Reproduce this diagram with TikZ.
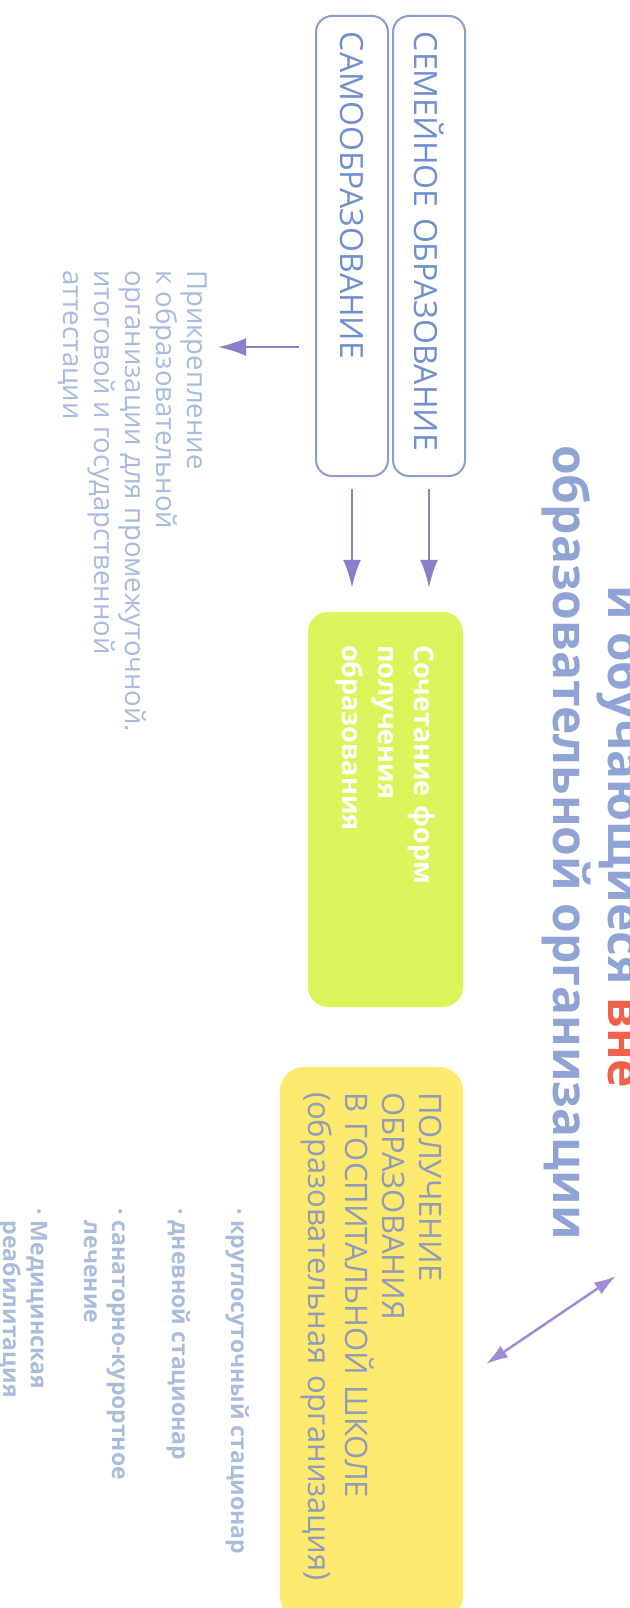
\documentclass[tikz,border=0pt]{standalone}
\usepackage{fontspec}
\setmainfont{Open Sans}
\usetikzlibrary{arrows.meta}

\definecolor{boxline}{HTML}{8B9BD3}
\definecolor{boxtext}{HTML}{6F8FCF}
\definecolor{arrowc}{HTML}{8A7FC9}
\definecolor{linkc}{HTML}{A28AD6}
\definecolor{titlec}{HTML}{8FA4D4}
\definecolor{vnec}{HTML}{F0604A}
\definecolor{limec}{HTML}{DCF45C}
\definecolor{sunc}{HTML}{FDE96E}
\definecolor{hosptext}{HTML}{8F9BB8}
\definecolor{notec}{HTML}{A7BBE0}
\definecolor{listc}{HTML}{AABCDC}

\tikzset{
  formbox/.style={draw=boxline, line width=2pt, rounded corners=16pt, text=boxtext,
    font=\fontsize{32}{36}\selectfont, text width=428pt, align=left,
    inner xsep=16pt, inner ysep=0pt, minimum height=72pt},
  combbox/.style={fill=limec, rounded corners=20pt, text=white,
    font=\bfseries\fontsize{27}{36}\selectfont, text width=329pt, align=left,
    inner xsep=33pt, inner ysep=0pt, minimum height=155pt},
  hospbox/.style={fill=sunc, rounded corners=24pt, text=hosptext,
    font=\fontsize{31}{37}\selectfont, text width=503pt, align=left,
    inner xsep=25pt, inner ysep=0pt, minimum height=183pt},
  note/.style={text=notec, font=\fontsize{27.5}{31}\selectfont, align=left, inner sep=0pt},
  listitem/.style={text=listc, font=\bfseries\fontsize{23}{28}\selectfont, align=left,
    inner sep=0pt, anchor=base west},
  heading/.style={text=titlec, font=\bfseries\fontsize{48}{55}\selectfont,
    inner sep=0pt, anchor=base west},
  flow/.style={draw=arrowc, line width=2.5pt, -{Latex[length=28pt,width=18pt]}},
  link/.style={draw=linkc, line width=2.5pt,
    {Latex[length=22pt,width=14pt]}-{Latex[length=22pt,width=14pt]}},
}

\begin{document}
\begin{tikzpicture}[x=1pt,y=1pt]
  \clip (0,0) rectangle (629,-1608);
  \fill[white] (0,0) rectangle (629,-1608);

  % whole sheet is turned, x runs down the page
  \begin{scope}[rotate=-90, transform shape]
    \node[heading] (title1) at (585,608) {и обучающиеся \textcolor{vnec}{вне}};
    \node[heading] (title2) at (445,553) {образовательной организации};

    \node[formbox] (semya) at (246,429) {СЕМЕЙНОЕ ОБРАЗОВАНИЕ};
    \node[formbox] (samo) at (246,352) {САМООБРАЗОВАНИЕ};

    \node[combbox] (comb) at (809.5,385.5) {Сочетание форм\\получения\\образования};
    \node[hospbox] (hosp) at (1343.5,371.5) {ПОЛУЧЕНИЕ\\ОБРАЗОВАНИЯ\\В ГОСПИТАЛЬНОЙ ШКОЛЕ\\(образовательная организация)};

    \node[note, anchor=north west] (attach) at (270,207) {Прикрепление\\к образовательной\\организации для промежуточной.\\итоговой и государственной\\аттестации};

    \node[listitem] (stac1) at (1208,231) {· круглосуточный стационар};
    \node[listitem] (stac2) at (1208,172) {· дневной стационар};
    \node[listitem] (stac3) at (1208,84) {· санаторно-курортное\\\hphantom{· }лечение};
    \node[listitem] (stac4) at (1208,3) {· Медицинская\\\hphantom{· }реабилитация};

    \draw[flow, shorten <=12pt, shorten >=24pt] (semya.east) -- (comb.west |- semya.east);
    \draw[flow, shorten <=12pt, shorten >=24pt] (samo.east) -- (comb.west |- samo.east);

    \coordinate (attachrow) at (347,0);
    \draw[flow, shorten <=16pt, shorten >=11pt] (attachrow |- samo.south) -- (attachrow |- attach.north);

    \coordinate (linkA) at (1364,486);
    \coordinate (linkB) at (1276,616);
    \draw[link] (linkA) -- (linkB);
  \end{scope}
\end{tikzpicture}
\end{document}
